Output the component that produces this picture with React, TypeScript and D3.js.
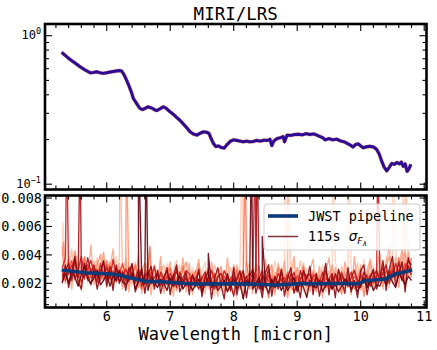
import React from "react";
import * as d3 from "d3";

// ---- top panel: extracted spectrum (flux, log scale) ----
const specWave = [
  5.29, 5.35, 5.42, 5.5, 5.58, 5.66, 5.74, 5.8, 5.84, 5.9, 5.95, 6.0, 6.08, 6.15, 6.21, 6.24, 6.27, 6.31, 6.35,
  6.39, 6.42, 6.47, 6.52, 6.56, 6.6, 6.65, 6.7, 6.75, 6.79, 6.84, 6.89, 6.93, 6.99, 7.05, 7.1, 7.15, 7.2, 7.26,
  7.31, 7.36, 7.42, 7.47, 7.52, 7.57, 7.61, 7.64, 7.68, 7.72, 7.76, 7.8, 7.85, 7.9, 7.95, 8.0, 8.05, 8.1, 8.15,
  8.2, 8.25, 8.31, 8.36, 8.42, 8.48, 8.53, 8.57, 8.6, 8.63, 8.68, 8.74, 8.78, 8.8, 8.84, 8.9, 8.96, 9.02, 9.08,
  9.14, 9.2, 9.26, 9.32, 9.36, 9.4, 9.44, 9.5, 9.56, 9.62, 9.68, 9.74, 9.78, 9.84, 9.88, 9.92, 9.96, 10.0, 10.04,
  10.08, 10.14, 10.2, 10.25, 10.29, 10.33, 10.37, 10.41, 10.45, 10.49, 10.53, 10.57, 10.61, 10.64, 10.67, 10.7,
  10.73, 10.76, 10.79,
];
const specFlux = [
  0.773, 0.735, 0.693, 0.655, 0.618, 0.588, 0.563, 0.566, 0.572, 0.562, 0.558, 0.563, 0.572, 0.578, 0.583, 0.575,
  0.548, 0.505, 0.46, 0.415, 0.378, 0.35, 0.325, 0.318, 0.323, 0.332, 0.327, 0.318, 0.313, 0.322, 0.332, 0.326,
  0.309, 0.295, 0.282, 0.27, 0.256, 0.24, 0.226, 0.218, 0.214, 0.22, 0.225, 0.224, 0.22, 0.205, 0.188, 0.179,
  0.181, 0.177, 0.175, 0.186, 0.195, 0.199, 0.197, 0.195, 0.193, 0.195, 0.193, 0.194, 0.197, 0.195, 0.198, 0.197,
  0.201, 0.182, 0.195, 0.203, 0.206, 0.209, 0.193, 0.214, 0.213, 0.216, 0.217, 0.215, 0.219, 0.216, 0.218, 0.213,
  0.209, 0.206, 0.199, 0.203, 0.199, 0.201, 0.196, 0.193, 0.189, 0.183, 0.178, 0.185, 0.187, 0.181, 0.176, 0.178,
  0.18, 0.178, 0.172, 0.16, 0.143, 0.13, 0.123, 0.13, 0.138, 0.136, 0.14, 0.137, 0.141, 0.132, 0.137, 0.122, 0.127,
  0.136,
];

// ---- bottom panel: per-integration uncertainties (units of 1e-3) ----
const noiseWave = [
  5.3, 5.35, 5.4, 5.45, 5.5, 5.55, 5.6, 5.65, 5.7, 5.75,
  5.8, 5.85, 5.9, 5.95, 6.0, 6.05, 6.1, 6.15, 6.2, 6.25,
  6.3, 6.35, 6.4, 6.45, 6.5, 6.55, 6.6, 6.65, 6.7, 6.75,
  6.8, 6.85, 6.9, 6.95, 7.0, 7.05, 7.1, 7.15, 7.2, 7.25,
  7.3, 7.35, 7.4, 7.45, 7.5, 7.55, 7.6, 7.65, 7.7, 7.75,
  7.8, 7.85, 7.9, 7.95, 8.0, 8.05, 8.1, 8.15, 8.2, 8.25,
  8.3, 8.35, 8.4, 8.45, 8.5, 8.55, 8.6, 8.65, 8.7, 8.75,
  8.8, 8.85, 8.9, 8.95, 9.0, 9.05, 9.1, 9.15, 9.2, 9.25,
  9.3, 9.35, 9.4, 9.45, 9.5, 9.55, 9.6, 9.65, 9.7, 9.75,
  9.8, 9.85, 9.9, 9.95, 10.0, 10.05, 10.1, 10.15, 10.2, 10.25,
  10.3, 10.35, 10.4, 10.45, 10.5, 10.55, 10.6, 10.65, 10.7, 10.75,
  10.8,
];
const noiseColors = [
  "#fdd0bd", "#fcbba1", "#fc9272", "#fb6a4a", "#ef3b2c", "#cb181d", "#a50f15", "#67000d", "#fca486", "#8b0a14",
];
const drawOrder = [0, 1, 8, 2, 3, 4, 5, 6, 9, 7];
const noiseSeries = [
  [
    3.4, 2.6, 3.9, 2.2, 3.1, 4.0, 2.5, 3.3, 2.0, 3.6,
    2.9, 3.8, 2.3, 3.2, 2.1, 3.5, 2.7, 3.9, 2.4, 3.0,
    2.2, 3.4, 1.8, 2.9, 3.6, 2.0, 2.7, 1.6, 3.1, 2.5,
    3.0, 1.7, 2.6, 3.4, 1.9, 2.8, 2.2, 3.3, 1.6, 2.5,
    1.9, 3.1, 2.4, 1.5, 2.8, 3.5, 1.8, 2.6, 1.1, 3.0,
    2.3, 1.6, 3.2, 2.0, 2.7, 0.9, 3.4, 2.2, 2.9, 1.7,
    2.6, 3.3, 1.9, 2.4, 1.5, 3.0, 2.2, 3.6, 1.8, 2.7,
    1.6, 2.9, 2.3, 3.4, 1.9, 2.5, 1.4, 3.1, 2.6, 2.0,
    2.8, 1.7, 3.3, 2.1, 2.6, 1.5, 3.5, 2.3, 1.9, 3.0,
    2.4, 3.2, 1.8, 2.9, 2.2, 3.7, 1.6, 2.6, 3.3, 2.1,
    3.5, 2.4, 3.9, 2.0, 3.2, 4.3, 2.6, 3.6, 2.2, 4.0,
    3.1,
  ],
  [
    2.4, 3.7, 2.9, 4.4, 2.2, 3.3, 2.7, 3.9, 3.1, 2.3,
    3.6, 2.5, 3.0, 4.1, 2.6, 2.1, 3.4, 2.8, 3.7, 2.2,
    3.3, 2.6, 2.0, 3.5, 2.3, 3.0, 1.5, 2.6, 2.2, 3.2,
    1.8, 2.7, 3.3, 2.1, 1.4, 2.9, 3.6, 2.0, 2.5, 1.7,
    2.7, 1.6, 2.2, 3.2, 2.5, 1.3, 2.9, 2.0, 3.3, 2.4,
    1.5, 2.8, 2.1, 3.1, 1.8, 2.6, 2.3, 0.9, 2.9, 3.4,
    2.0, 1.7, 2.9, 2.3, 3.4, 1.9, 1.4, 2.8, 2.4, 1.6,
    3.2, 2.1, 1.5, 2.7, 2.2, 3.6, 2.0, 1.7, 3.0, 2.4,
    1.8, 3.1, 2.5, 1.4, 2.9, 2.2, 2.7, 1.6, 3.2, 2.3,
    2.9, 1.9, 2.6, 3.4, 1.5, 2.4, 2.9, 2.0, 1.6, 3.1,
    2.1, 3.3, 2.8, 1.7, 3.8, 2.5, 3.0, 4.4, 2.3, 3.5,
    2.7,
  ],
  [
    3.9, 2.1, 3.2, 2.6, 4.2, 2.9, 1.9, 3.5, 2.4, 3.1,
    2.3, 3.3, 4.0, 2.2, 2.9, 3.5, 2.0, 2.6, 3.1, 1.8,
    2.8, 1.9, 3.1, 2.4, 1.7, 2.9, 3.4, 2.2, 1.9, 2.7,
    2.4, 3.2, 1.6, 2.3, 3.0, 2.6, 1.5, 2.1, 2.9, 3.5,
    2.2, 2.8, 1.7, 3.4, 2.0, 2.4, 3.1, 1.5, 2.2, 2.7,
    3.1, 2.0, 2.5, 1.4, 3.3, 2.1, 1.7, 2.8, 2.2, 1.6,
    1.8, 2.5, 3.2, 1.6, 2.1, 2.7, 3.3, 1.5, 2.2, 3.0,
    2.5, 1.0, 2.8, 2.0, 3.1, 1.6, 2.6, 2.3, 1.4, 2.9,
    2.1, 2.6, 1.5, 3.0, 1.8, 3.3, 2.0, 2.5, 1.3, 2.8,
    1.7, 2.5, 3.0, 1.9, 2.7, 1.1, 2.3, 3.5, 2.1, 2.6,
    2.9, 1.8, 3.2, 3.9, 2.4, 2.9, 1.9, 3.3, 4.2, 2.6,
    3.8,
  ],
  [
    2.3, 3.2, 2.0, 2.7, 3.5, 1.9, 2.9, 3.8, 2.2, 2.6,
    3.1, 2.0, 2.7, 2.3, 3.6, 2.5, 1.9, 3.2, 2.4, 2.9,
    2.0, 2.9, 2.5, 3.3, 2.1, 1.6, 2.6, 3.1, 2.3, 1.8,
    2.9, 2.2, 1.8, 2.7, 3.1, 1.7, 2.4, 2.0, 3.2, 2.2,
    1.6, 2.3, 2.9, 1.9, 2.5, 1.7, 2.2, 3.0, 1.8, 2.4,
    2.6, 1.9, 1.5, 2.4, 2.0, 3.0, 1.6, 2.5, 3.4, 1.9,
    2.9, 2.2, 1.7, 2.8, 2.0, 1.0, 2.5, 2.1, 3.1, 1.9,
    2.2, 2.8, 1.8, 1.4, 2.6, 2.1, 3.2, 1.8, 2.3, 2.7,
    1.5, 2.4, 2.0, 2.7, 1.6, 2.4, 1.9, 2.9, 2.1, 1.6,
    2.6, 2.1, 1.6, 2.4, 3.0, 2.2, 1.8, 2.7, 2.3, 1.9,
    2.4, 2.8, 1.9, 2.6, 3.4, 2.2, 3.8, 2.7, 1.9, 3.2,
    2.4,
  ],
  [
    2.8, 2.2, 3.0, 3.6, 2.5, 2.9, 2.1, 2.7, 3.3, 2.4,
    2.6, 3.0, 2.2, 2.8, 3.3, 2.4, 2.9, 2.1, 2.7, 3.4,
    2.4, 2.1, 2.8, 2.2, 2.6, 3.0, 2.1, 2.5, 2.8, 2.0,
    2.2, 2.6, 2.0, 2.5, 1.9, 2.4, 2.8, 2.1, 2.3, 1.8,
    2.4, 2.0, 2.5, 2.2, 1.8, 2.6, 2.0, 2.3, 2.7, 1.9,
    2.2, 2.5, 1.9, 2.3, 2.7, 1.8, 2.2, 2.6, 1.9, 2.4,
    2.1, 2.6, 2.0, 1.8, 2.4, 2.2, 1.9, 2.5, 2.0, 2.3,
    2.4, 1.9, 2.3, 2.0, 2.5, 1.8, 2.2, 2.6, 2.0, 2.3,
    2.0, 2.3, 1.8, 2.4, 2.1, 1.9, 2.5, 2.0, 2.4, 2.1,
    2.3, 1.9, 2.5, 2.1, 2.4, 2.0, 2.6, 2.2, 2.0, 2.5,
    2.7, 2.3, 2.9, 2.5, 3.1, 2.6, 3.0, 2.7, 3.4, 2.8,
    3.0,
  ],
  [
    3.1, 3.8, 2.6, 3.3, 2.3, 2.9, 3.9, 2.5, 3.0, 3.6,
    2.7, 2.1, 3.4, 2.6, 3.1, 2.3, 3.7, 2.4, 2.9, 2.5,
    3.0, 2.4, 3.3, 2.0, 2.7, 2.3, 1.9, 2.9, 2.4, 3.2,
    2.0, 2.8, 2.3, 1.9, 2.7, 2.1, 3.0, 1.8, 2.4, 2.9,
    2.7, 1.9, 2.3, 2.8, 1.6, 2.5, 2.1, 2.9, 2.3, 1.7,
    2.0, 2.9, 2.4, 1.7, 2.5, 2.2, 2.8, 1.8, 2.4, 2.7,
    2.4, 1.8, 2.3, 2.9, 1.7, 2.6, 2.1, 1.8, 2.7, 2.2,
    1.9, 2.6, 2.1, 2.8, 1.7, 2.3, 2.8, 2.0, 1.8, 2.5,
    2.6, 2.0, 2.8, 1.7, 2.3, 2.7, 1.8, 2.2, 2.8, 1.9,
    2.2, 2.8, 2.0, 1.7, 2.6, 2.3, 1.9, 2.5, 2.8, 2.0,
    2.5, 3.1, 2.2, 2.9, 2.4, 3.4, 2.7, 2.3, 3.1, 3.6,
    3.3,
  ],
  [
    2.5, 2.9, 3.4, 2.2, 3.7, 2.4, 3.0, 2.3, 3.8, 2.8,
    3.3, 2.4, 2.9, 3.5, 2.2, 3.2, 2.5, 3.0, 2.1, 2.8,
    2.2, 3.1, 2.6, 2.3, 3.0, 1.8, 2.5, 2.8, 2.0, 2.4,
    2.7, 1.8, 2.5, 2.9, 2.0, 2.6, 1.7, 2.8, 2.0, 2.4,
    1.8, 2.6, 2.1, 1.6, 2.4, 2.8, 1.9, 2.2, 1.6, 2.5,
    2.7, 2.1, 2.6, 2.0, 1.1, 2.4, 2.9, 2.0, 2.5, 1.8,
    2.3, 2.9, 1.6, 2.5, 2.2, 3.0, 1.7, 2.4, 1.9, 2.8,
    2.1, 1.7, 2.7, 2.3, 1.6, 2.9, 2.0, 2.4, 2.7, 1.7,
    2.4, 1.9, 2.2, 2.9, 2.0, 1.6, 2.7, 2.1, 2.6, 2.2,
    1.8, 2.4, 2.9, 2.2, 1.7, 2.8, 2.4, 1.8, 2.5, 2.9,
    2.2, 2.7, 3.3, 2.0, 2.9, 2.5, 3.5, 2.2, 2.8, 3.2,
    2.6,
  ],
  [
    2.1, 2.7, 2.0, 2.9, 2.4, 1.8, 2.6, 3.2, 2.3, 2.0,
    2.4, 2.9, 1.9, 2.2, 2.7, 1.8, 2.5, 2.2, 2.9, 2.1,
    1.9, 2.3, 2.7, 1.6, 2.2, 2.6, 2.0, 1.5, 2.4, 2.1,
    1.7, 2.3, 2.0, 1.5, 2.4, 1.8, 2.1, 2.5, 1.6, 2.0,
    2.1, 1.5, 1.9, 2.3, 1.4, 2.0, 2.4, 1.7, 2.1, 1.5,
    1.8, 2.2, 1.4, 1.9, 2.3, 1.6, 2.0, 0.9, 2.2, 1.9,
    1.6, 2.0, 2.4, 1.5, 1.9, 1.3, 2.3, 1.7, 2.1, 1.5,
    2.0, 1.5, 1.9, 2.4, 1.4, 2.1, 1.7, 1.0, 2.2, 1.8,
    1.7, 2.2, 1.4, 1.9, 2.3, 1.6, 2.0, 1.4, 1.8, 2.3,
    2.1, 1.6, 2.0, 1.4, 1.9, 2.4, 1.7, 2.2, 1.5, 1.9,
    1.8, 2.4, 1.9, 2.6, 2.1, 1.7, 2.8, 2.3, 1.9, 2.5,
    2.2,
  ],
  [
    4.6, 2.0, 3.7, 1.6, 4.3, 2.8, 1.5, 3.9, 2.2, 4.7,
    1.9, 3.6, 2.4, 4.2, 1.7, 3.0, 4.4, 2.1, 3.4, 1.6,
    3.8, 1.4, 3.1, 2.2, 4.0, 1.3, 2.8, 3.6, 1.2, 3.3,
    2.0, 3.9, 1.3, 2.7, 3.5, 1.1, 3.2, 2.1, 3.8, 1.4,
    3.4, 1.2, 2.6, 3.7, 1.0, 2.9, 1.6, 3.5, 2.3, 1.1,
    3.2, 1.4, 3.8, 2.0, 1.2, 3.3, 2.4, 1.0, 3.6, 2.2,
    1.3, 3.5, 2.1, 1.1, 3.7, 1.9, 3.0, 1.2, 3.4, 2.5,
    3.6, 1.2, 2.7, 3.9, 1.5, 2.2, 3.4, 1.1, 2.9, 3.7,
    1.4, 3.2, 1.0, 2.8, 3.8, 1.6, 3.1, 2.0, 1.2, 3.5,
    2.5, 1.2, 3.9, 1.8, 3.3, 1.1, 2.9, 3.7, 1.5, 3.0,
    4.1, 1.6, 3.4, 4.6, 2.0, 3.8, 1.7, 4.5, 2.8, 4.2,
    3.3,
  ],
  [
    2.0, 3.3, 1.7, 2.8, 3.9, 2.1, 1.6, 3.4, 2.6, 1.9,
    3.0, 1.6, 2.6, 3.6, 1.8, 2.9, 1.5, 3.3, 2.0, 2.7,
    1.5, 2.8, 3.4, 1.4, 2.1, 3.0, 1.3, 2.6, 3.2, 1.6,
    2.9, 1.3, 2.2, 3.1, 1.2, 2.5, 3.3, 1.4, 2.0, 2.8,
    1.2, 2.6, 1.8, 3.0, 1.1, 2.3, 2.9, 0.9, 2.4, 3.1,
    1.9, 0.9, 2.7, 1.5, 3.1, 1.2, 2.4, 2.9, 1.0, 2.5,
    3.0, 1.3, 2.2, 1.0, 2.8, 3.3, 1.1, 2.5, 1.6, 3.0,
    1.1, 2.4, 3.1, 1.3, 2.0, 1.0, 2.9, 2.3, 3.2, 1.2,
    2.7, 1.1, 2.3, 3.4, 1.2, 2.6, 1.0, 3.0, 2.1, 1.3,
    3.1, 1.4, 2.2, 1.0, 2.9, 3.3, 1.2, 2.4, 3.0, 1.6,
    2.3, 3.6, 1.5, 3.0, 3.9, 1.8, 2.6, 3.5, 1.4, 3.8,
    2.9,
  ],
];
// bad-pixel spikes (wavelength, series index, value in 1e-3)
const spikeWave = [5.31, 5.32, 5.37, 5.58, 6.21, 6.31, 6.5, 6.62, 6.68, 7.6, 8.13, 8.18, 8.28, 8.34, 8.37, 8.45, 8.8, 8.85, 9.56, 9.8, 10.27, 10.5, 10.67, 10.7];
const spikeSeries = [0, 2, 5, 6, 1, 2, 7, 7, 3, 7, 0, 3, 7, 5, 6, 7, 0, 1, 0, 0, 5, 0, 0, 1];
const spikeValue = [6.3, 4.9, 12, 12, 12, 12, 12, 12, 4.6, 4.1, 12, 12, 12, 12, 12, 5.3, 12, 12, 12, 12, 12, 12, 9, 12];

// pipeline uncertainty (units of 1e-3)
const pipeWave = [5.29, 5.66, 6.08, 6.24, 6.45, 6.61, 6.87, 7.13, 7.39, 7.7, 8.02, 8.35, 8.65, 9.06, 9.3, 9.59, 9.96, 10.07, 10.39, 10.55, 10.81];
const pipeSigma = [2.94, 2.75, 2.66, 2.54, 2.3, 2.14, 2.11, 2.02, 1.95, 1.96, 1.98, 1.94, 1.88, 1.98, 1.97, 1.99, 1.98, 2.18, 2.3, 2.66, 2.94];

const xMajor = [6, 7, 8, 9, 10, 11];
const topMajor = [0.1, 1];
const topMinor = [0.2, 0.3, 0.4, 0.5, 0.6, 0.7, 0.8, 0.9];
const botMajor = [0.002, 0.004, 0.006, 0.008];
const botLabels = ["0.002", "0.004", "0.006", "0.008"];

const MONO = "DejaVu Sans Mono, monospace";
const L = 45, R = 426.5;
const T1 = 24, B1 = 189.5, T2 = 195.5, B2 = 307.5;

export default function App() {
  const x = d3.scaleLinear().domain([5.028, 11.036]).range([L, R]);
  const yTop = d3.scaleLog().domain([0.0921, 1.199]).range([B1, T1]);
  const yBot = d3.scaleLinear().domain([0.0003, 0.00818]).range([B2, T2]);

  const xMinor = d3.range(5.2, 11.01, 0.2).filter((v) => Math.abs(v - Math.round(v)) > 0.01);
  const botMinor = d3.range(0.0005, 0.0082, 0.0005).filter((v) => !botMajor.some((m) => Math.abs(m - v) < 1e-6));

  const specLine = d3
    .line<number>()
    .x((_, i) => x(specWave[i]))
    .y((d) => yTop(d));

  const noiseLine = d3
    .line<[number, number]>()
    .x((d) => x(d[0]))
    .y((d) => yBot(d[1] * 1e-3));

  const noisePaths = noiseSeries.map((s, k) => {
    const pts: [number, number][] = noiseWave
      .map((w, i) => [w, s[i]] as [number, number])
      .filter((p) => p[1] !== undefined);
    spikeWave.forEach((w, j) => {
      if (spikeSeries[j] === k) pts.push([w, spikeValue[j]]);
    });
    pts.sort((a, b) => a[0] - b[0]);
    return noiseLine(pts);
  });

  const pipePath = noiseLine(pipeWave.map((w, i) => [w, pipeSigma[i]] as [number, number]));

  const xTicks = (top: number, bottom: number) => (
    <g stroke="#000" strokeWidth={1.1}>
      {xMajor.map((v) => (
        <g key={"M" + v}>
          <line x1={x(v)} x2={x(v)} y1={bottom} y2={bottom - 7} />
          <line x1={x(v)} x2={x(v)} y1={top} y2={top + 7} />
        </g>
      ))}
      {xMinor.map((v) => (
        <g key={"m" + v}>
          <line x1={x(v)} x2={x(v)} y1={bottom} y2={bottom - 4} />
          <line x1={x(v)} x2={x(v)} y1={top} y2={top + 4} />
        </g>
      ))}
    </g>
  );

  const yTicks = (ys: number[], len: number, key: string) => (
    <g stroke="#000" strokeWidth={1.1} key={key}>
      {ys.map((y, i) => (
        <g key={i}>
          <line x1={L} x2={L + len} y1={y} y2={y} />
          <line x1={R} x2={R - len} y1={y} y2={y} />
        </g>
      ))}
    </g>
  );

  return (
    <svg width={437} height={350} style={{ position: "fixed", left: 0, top: 0, background: "#fff" }} fontFamily={MONO}>
      <defs>
        <clipPath id="c1">
          <rect x={L} y={T1} width={R - L} height={B1 - T1} />
        </clipPath>
        <clipPath id="c2">
          <rect x={L} y={T2} width={R - L} height={B2 - T2} />
        </clipPath>
      </defs>
      <rect x={0} y={0} width={437} height={350} fill="#fff" />

      <text x={(L + R) / 2} y={20} textAnchor="middle" fontSize={17.5}>
        MIRI/LRS
      </text>

      {/* top panel */}
      <g clipPath="url(#c1)" fill="none" strokeLinejoin="round">
        <path d={specLine(specFlux) || ""} stroke="#f0883c" strokeWidth={3.8} opacity={0.55} />
        <path d={specLine(specFlux) || ""} stroke="#d0407a" strokeWidth={3.4} opacity={0.4} />
        <path d={specLine(specFlux) || ""} stroke="#2a0c96" strokeWidth={2.9} />
      </g>
      {xTicks(T1, B1)}
      {yTicks(topMajor.map((v) => yTop(v)), 7, "tM")}
      {yTicks(topMinor.map((v) => yTop(v)), 4, "tm")}
      <rect x={L} y={T1} width={R - L} height={B1 - T1} fill="none" stroke="#000" strokeWidth={2.6} />
      {topMajor.map((v) => (
        <text key={v} x={41} y={yTop(v) + 3.5} textAnchor="end" fontSize={12}>
          10
          <tspan dy={-5} fontSize={8.5}>
            {v === 1 ? "0" : "\u22121"}
          </tspan>
        </text>
      ))}

      {/* bottom panel */}
      <g clipPath="url(#c2)" fill="none" strokeLinejoin="round">
        {drawOrder.map((k) => (
          <path key={k} d={noisePaths[k] || ""} stroke={noiseColors[k]} strokeWidth={1.35} opacity={0.9} />
        ))}
        <path d={pipePath || ""} stroke="#0d3a78" strokeWidth={3.6} />
      </g>
      {xTicks(T2, B2)}
      {yTicks(botMajor.map((v) => yBot(v)), 7, "bM")}
      {yTicks(botMinor.map((v) => yBot(v)), 4, "bm")}
      <rect x={L} y={T2} width={R - L} height={B2 - T2} fill="none" stroke="#000" strokeWidth={2.6} />
      {botMajor.map((v, i) => (
        <text key={v} x={42} y={yBot(v) + 5} textAnchor="end" fontSize={13.5}>
          {botLabels[i]}
        </text>
      ))}
      {xMajor.map((v) => (
        <text key={v} x={x(v)} y={321} textAnchor="middle" fontSize={13.5}>
          {v}
        </text>
      ))}
      <text x={(L + R) / 2} y={340} textAnchor="middle" fontSize={17}>
        Wavelength [micron]
      </text>

      {/* legend */}
      <g>
        <rect x={264} y={204} width={156} height={46} rx={3} fill="#fff" fillOpacity={0.8} stroke="#cccccc" />
        <line x1={268} x2={298} y1={216} y2={216} stroke="#0d3a78" strokeWidth={3.6} />
        <text x={308} y={221} fontSize={13.5}>
          JWST pipeline
        </text>
        <line x1={268} x2={298} y1={236.5} y2={236.5} stroke="#67000d" strokeWidth={1.5} opacity={0.8} />
        <text x={308} y={241} fontSize={13.5}>
          115s{" "}
          <tspan fontFamily="DejaVu Sans" fontStyle="italic">
            σ
          </tspan>
          <tspan fontFamily="DejaVu Sans" fontStyle="italic" fontSize={9.5} dy={3}>
            F
          </tspan>
          <tspan fontFamily="DejaVu Sans" fontStyle="italic" fontSize={7} dy={2}>
            λ
          </tspan>
        </text>
      </g>
    </svg>
  );
}
